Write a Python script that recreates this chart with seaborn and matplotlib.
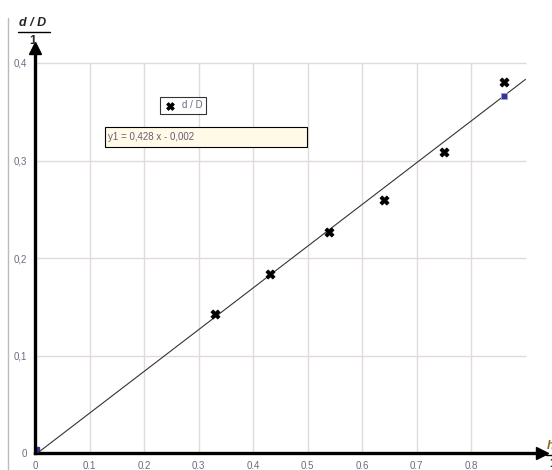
import numpy as np
import pandas as pd
import matplotlib
matplotlib.use("Agg")
import matplotlib.pyplot as plt
import seaborn as sns
from matplotlib.lines import Line2D
from matplotlib.patches import Rectangle

x_vals = [0.330, 0.431, 0.539, 0.640, 0.750, 0.861]
y_vals = [0.1426, 0.1836, 0.2267, 0.2595, 0.3085, 0.381]
slope = 0.428
intercept = -0.002
fit_x = [0.0, 0.9]
x_ticks = [0, 0.1, 0.2, 0.3, 0.4, 0.5, 0.6, 0.7, 0.8]
x_labels = ["0", "0.1", "0.2", "0.3", "0.4", "0.5", "0.6", "0.7", "0.8"]
y_ticks = [0, 0.1, 0.2, 0.3, 0.4]
y_labels = ["0", "0,1", "0,2", "0,3", "0,4"]

sns.set_style("white")
plt.rcParams['font.family'] = ['Liberation Sans', 'DejaVu Sans']

W, H = 552, 470
fig = plt.figure(figsize=(W / 100, H / 100), dpi=100)
# eixo: x=0 em px 35, y=0 em px 453 (de cima)
ax = fig.add_axes([35 / W, (H - 453) / H, (542 - 35) / W, (453 - 48) / H])
ax.set_xlim(0, 507 / 545)
ax.set_ylim(0, 405 / 975)

grid_c = "#e2dada"
ax.vlines(x_ticks[1:], 0, 0.4, color=grid_c, lw=1, zorder=0)
ax.hlines(y_ticks[1:], 0, 0.9, color=grid_c, lw=1, zorder=0)

df = pd.DataFrame({"x": x_vals, "y": y_vals})
sns.scatterplot(data=df, x="x", y="y", marker="X", s=42, color="black",
                edgecolor="black", linewidth=0.6, label="d / D", ax=ax, zorder=4)

fit_y = [slope * v + intercept for v in fit_x]
sns.lineplot(x=fit_x, y=fit_y, color="#333333", lw=0.8, ax=ax, zorder=3)
ax.plot([x_vals[-1]], [slope * x_vals[-1] + intercept], "s", ms=5,
        color="#33339a", mec="#9a9ad0", mew=0.6, zorder=5)
ax.plot([0.004], [0.004], "s", ms=3, color="#33339a", clip_on=False, zorder=1)

for s in ["top", "right"]:
    ax.spines[s].set_visible(False)
for s in ["left", "bottom"]:
    ax.spines[s].set_linewidth(2.4)
    ax.spines[s].set_color("black")
ax.plot(1, 0, ">", ms=8, color="black", transform=ax.transAxes, clip_on=False)
ax.plot(0, 1, "^", ms=8, color="black", transform=ax.transAxes, clip_on=False)

ax.set_xticks(x_ticks)
ax.set_xticklabels(x_labels)
ax.set_yticks(y_ticks)
ax.set_yticklabels(y_labels)
ax.tick_params(axis="both", labelsize=7, labelcolor="#6a6a80", length=4,
               width=1, direction="out", color="black", pad=2)
ax.set_xlabel("")
ax.set_ylabel("")

leg = ax.legend(loc="upper left", bbox_to_anchor=(160 / W, 1 - 97 / H),
                bbox_transform=fig.transFigure, fontsize=7, frameon=True,
                fancybox=False, edgecolor="black", borderpad=0.35,
                handletextpad=0.5, handlelength=1.4, markerscale=0.85,
                borderaxespad=0)
leg.get_frame().set_linewidth(0.8)
for t in leg.get_texts():
    t.set_color("#6a6a80")

fig.add_artist(Rectangle((105 / W, 1 - 147 / H), 202 / W, 20 / H,
                         transform=fig.transFigure, facecolor="#fffbe6",
                         edgecolor="black", lw=0.8, zorder=6))
fig.text(108 / W, 1 - 137 / H, "y1 = 0,428 x - 0,002", fontsize=7,
         color="#6a5a7a", va="center", ha="left", zorder=7)

# rótulo do eixo y
fig.text(33 / W, 1 - 23 / H, "d / D", fontsize=9, fontweight="bold",
         fontstyle="italic", ha="center", va="center")
fig.add_artist(Line2D([18 / W, 50 / W], [1 - 32 / H, 1 - 32 / H], color="black", lw=1))
fig.text(33 / W, 1 - 41 / H, "1", fontsize=9, fontweight="bold",
         ha="center", va="center")

# rótulo do eixo x (cortado na borda, como no original)
fig.text(547 / W, 1 - 446 / H, "h / H", fontsize=9, fontweight="bold",
         fontstyle="italic", ha="left", va="center", color="#8a6a20")
fig.add_artist(Line2D([546 / W, 580 / W], [1 - 455 / H, 1 - 455 / H], color="black", lw=1))
fig.text(549 / W, 1 - 464 / H, "1", fontsize=9, fontweight="bold",
         ha="left", va="center")

fig.add_artist(Line2D([7.5 / W, 7.5 / W], [0, 1 - 18 / H], color="#bbbbbb", lw=1))

fig.savefig("out.png", dpi=100)
